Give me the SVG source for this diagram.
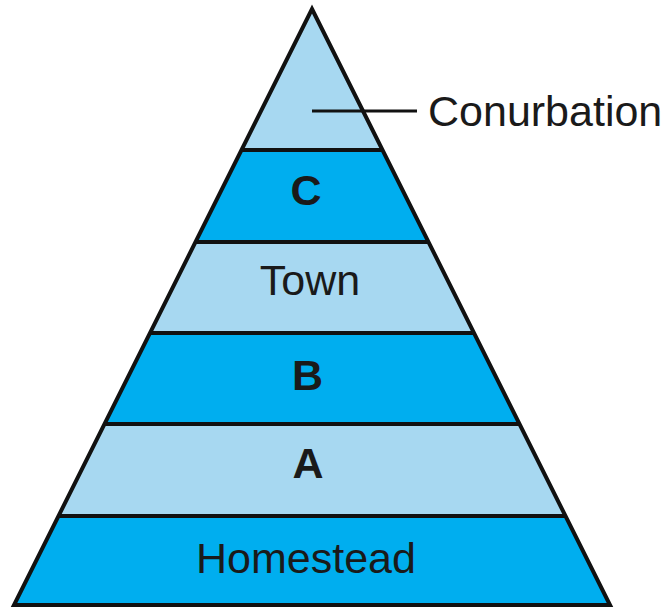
<svg xmlns="http://www.w3.org/2000/svg" width="672" height="610" viewBox="0 0 672 610">
<style>
.light{fill:#a7d8f1}
.dark{fill:#00aeef}
.sep{stroke:#111;stroke-width:4;fill:none}
.lbl{font-family:"Liberation Sans",Arial,sans-serif;font-size:43px;fill:#1a1a1a;text-anchor:middle}
.bold{font-weight:bold}
</style>
<rect width="672" height="610" fill="#fff"/>
<g id="conurbation">
<polygon class="light" points="312,9 382.5,150 241.5,150"/>
</g>
<g id="band-c">
<polygon class="dark" points="241.5,150 382.5,150 428.5,242 195.5,242"/>
<text class="lbl bold" x="306" y="205">C</text>
</g>
<g id="town">
<polygon class="light" points="195.5,242 428.5,242 474,333 150,333"/>
<text class="lbl" x="310" y="295">Town</text>
</g>
<g id="band-b">
<polygon class="dark" points="150,333 474,333 519.5,424 104.5,424"/>
<text class="lbl bold" x="307.5" y="390">B</text>
</g>
<g id="band-a">
<polygon class="light" points="104.5,424 519.5,424 565.5,516 58.5,516"/>
<text class="lbl bold" x="308" y="478">A</text>
</g>
<g id="homestead">
<polygon class="dark" points="58.5,516 565.5,516 610,605 14,605"/>
<text class="lbl" x="306" y="573">Homestead</text>
</g>
<g id="connectors">
<line class="sep" x1="241.5" y1="150" x2="382.5" y2="150"/>
<line class="sep" x1="195.5" y1="242" x2="428.5" y2="242"/>
<line class="sep" x1="150" y1="333" x2="474" y2="333"/>
<line class="sep" x1="104.5" y1="424" x2="519.5" y2="424"/>
<line class="sep" x1="58.5" y1="516" x2="565.5" y2="516"/>
<polygon class="sep" points="312,9 610,605 14,605" stroke-linejoin="miter"/>
<line x1="312" y1="111" x2="417" y2="111" stroke="#111" stroke-width="3"/>
</g>
<g id="label-conurbation">
<text class="lbl" x="428" y="126" style="text-anchor:start">Conurbation</text>
</g>
</svg>
